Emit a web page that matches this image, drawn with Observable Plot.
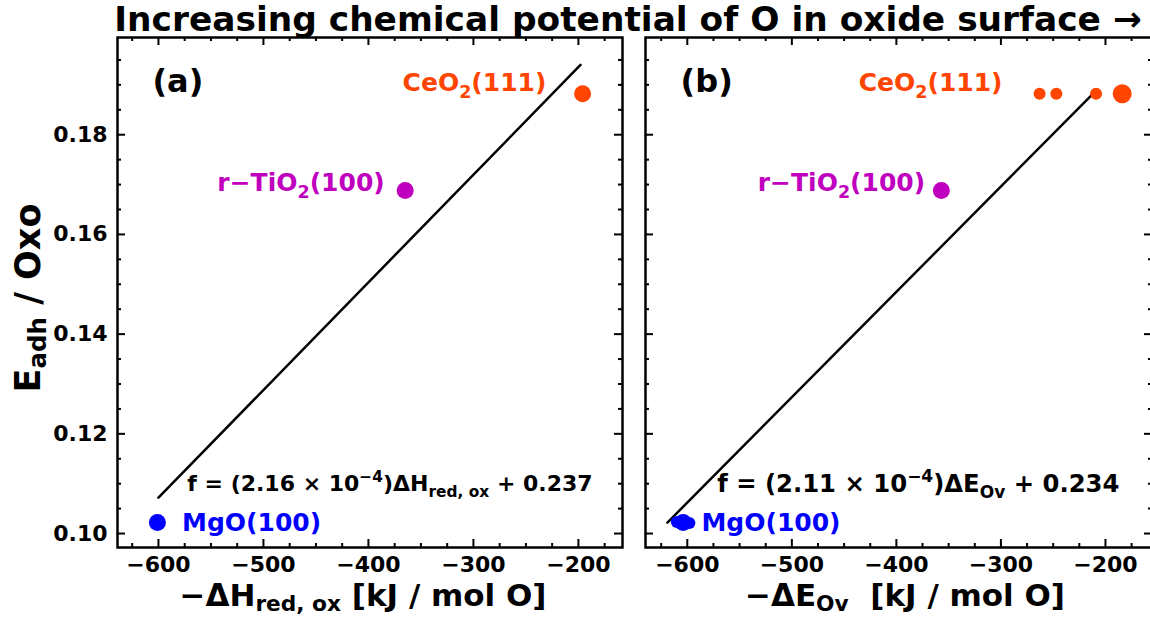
<!DOCTYPE html>
<html><head><meta charset="utf-8">
<script src="https://cdn.jsdelivr.net/npm/d3@7"></script>
<script src="https://cdn.jsdelivr.net/npm/@observablehq/plot@0.6"></script>
<style>
body{margin:0;width:1150px;height:619px;overflow:hidden;background:#fff;font-family:"DejaVu Sans",sans-serif;font-weight:bold;}
#wrap{position:relative;width:1150px;height:619px;overflow:hidden;}
.abs{position:absolute;white-space:pre;color:#000;}
.sub{font-size:70%;vertical-align:-0.22em;}
</style></head><body><div id="wrap"></div>
<script>
// ---------- data ----------
const titleText = "Increasing chemical potential of O in oxide surface \u2192";
const yLabel = "E_{adh} / Oxo";
const xLabelA = "\u2212\u0394H_{red, ox} [kJ / mol O]";
const xLabelB = "\u2212\u0394E_{Ov}  [kJ / mol O]";

// panel (a): -ΔH_red,ox vs E_adh/Oxo
const aMaterial = ["Ce", "Ti", "Mg"];
const aX = [-196, -365, -601];
const aY = [0.1882, 0.1688, 0.1022];
const aKind = ["main", "main", "main"];
const aFitX = [-600, -198];
const aFitY = [0.1072, 0.1940];

// panel (b): -ΔE_Ov vs E_adh/Oxo
const bMaterial = ["Ce", "Ce", "Ce", "Ce", "Ti", "Mg", "Mg", "Mg"];
const bX = [-263, -247, -209, -184, -357, -610, -598, -604];
const bY = [0.1882, 0.1882, 0.1882, 0.1882, 0.1688, 0.1023, 0.1021, 0.1022];
const bKind = ["small", "small", "small", "big", "main", "small", "small", "main"];
const bFitX = [-619, -213];
const bFitY = [0.1022, 0.1880];

// labels
const matLabel = {Ce: "CeO_{2}(111)", Ti: "r\u2212TiO_{2}(100)", Mg: "MgO(100)"};
const aLabelX = [-230, -384, -577];
const aLabelY = [0.1904, 0.1704, 0.1022];
const bLabelX = [-298, -372, -586];
const bLabelY = [0.1904, 0.1704, 0.1022];
const labelMats = ["Ce", "Ti", "Mg"];
const labelAnchor = ["end", "end", "start"];
const formulaA = "f = (2.16 \u00d7 10^{\u22124})\u0394H_{red, ox} + 0.237";
const formulaB = "f = (2.11 \u00d7 10^{\u22124})\u0394E_{Ov} + 0.234";
const formulaAPos = [-572, 0.1100];
const formulaBPos = [-571, 0.1100];
const panelTagA = ["(a)", -581, 0.1908];
const panelTagB = ["(b)", -581, 0.1908];

const xMajor = [-600, -500, -400, -300, -200];
const xMinor = [-625, -575, -550, -525, -475, -450, -425, -375, -350, -325, -275, -250, -225, -175];
const yMajor = [0.10, 0.12, 0.14, 0.16, 0.18];
const yMinor = [0.105, 0.11, 0.115, 0.125, 0.13, 0.135, 0.145, 0.15, 0.155, 0.165, 0.17, 0.175, 0.185, 0.19, 0.195];

// ---------- style ----------
const colorOf = {Ce: "#ff4500", Ti: "#bf00bf", Mg: "#0000ff"};
const radiusOf = {main: 8.5, big: 9.5, small: 6};
const FONT = "DejaVu Sans";

function richHTML(str) {
  return str.split(/(_\{[^}]*\})/).filter(s => s.length).map(p =>
    p.startsWith("_{") ? `<span class="sub">${p.slice(2, -1)}</span>` : p
  ).join("");
}

function richSVG(svg, x, y, str, fs, color, anchor) {
  const t = d3.select(svg).append("text")
    .attr("x", x).attr("y", y + fs * 0.36)
    .attr("fill", color).attr("font-size", fs).attr("font-weight", "bold")
    .attr("font-family", FONT).attr("text-anchor", anchor)
    .attr("style", "white-space:pre");
  const parts = str.split(/([_^]\{[^}]*\})/).filter(s => s.length);
  let cur = 0;
  for (const p of parts) {
    let txt = p, off = 0, size = fs;
    if (p.startsWith("_{")) { txt = p.slice(2, -1); off = 0.26 * fs; size = 0.7 * fs; }
    else if (p.startsWith("^{")) { txt = p.slice(2, -1); off = -0.42 * fs; size = 0.7 * fs; }
    t.append("tspan").attr("dy", off - cur).attr("font-size", size).text(txt);
    cur = off;
  }
}

function panel(opts) {
  const {xs, ys, mats, kinds, fitX, fitY, xDomain, width, height, mL, mR, mT, mB, showY} = opts;
  const W = width - mL - mR, H = height - mT - mB;
  const pts = xs.map((x, i) => ({x, y: ys[i], m: mats[i], k: kinds[i]}));
  const fit = fitX.map((x, i) => ({x, y: fitY[i]}));
  const marks = [
    Plot.line(fit, {x: "x", y: "y", stroke: "black", strokeWidth: 2.5}),
    Plot.dot(pts, {x: "x", y: "y", r: d => radiusOf[d.k], fill: d => colorOf[d.m], stroke: "none"}),
    // inward ticks: bottom, top
    Plot.tickX(xMajor, {x: d => d, insetTop: H - 8, strokeWidth: 2}),
    Plot.tickX(xMajor, {x: d => d, insetBottom: H - 8, strokeWidth: 2}),
    Plot.tickX(xMinor, {x: d => d, insetTop: H - 4, strokeWidth: 2}),
    Plot.tickX(xMinor, {x: d => d, insetBottom: H - 4, strokeWidth: 2}),
    // left, right
    Plot.tickY(yMajor, {y: d => d, insetRight: W - 8, strokeWidth: 2}),
    Plot.tickY(yMajor, {y: d => d, insetLeft: W - 8, strokeWidth: 2}),
    Plot.tickY(yMinor, {y: d => d, insetRight: W - 4, strokeWidth: 2}),
    Plot.tickY(yMinor, {y: d => d, insetLeft: W - 4, strokeWidth: 2}),
    Plot.axisX(xMajor, {tickSize: 0, tickPadding: 9, tickFormat: d3.format("d"), fontSize: 22, fontWeight: "bold", label: null}),
    Plot.frame({stroke: "black", strokeWidth: 2.5})
  ];
  if (showY) marks.push(Plot.axisY(yMajor, {tickSize: 0, tickPadding: 10, tickFormat: d3.format(".2f"), fontSize: 22, fontWeight: "bold", label: null}));
  else marks.push(Plot.axisY({ticks: [], tickSize: 0, label: null}));
  return Plot.plot({
    width, height, marginLeft: mL, marginRight: mR, marginTop: mT, marginBottom: mB,
    x: {domain: xDomain, label: null},
    y: {domain: [0.0972, 0.1995], label: null},
    r: {type: "identity"},
    color: {type: "identity"},
    style: {fontFamily: FONT, fontWeight: "bold", fontSize: "22px", color: "black", background: "transparent", overflow: "visible", maxWidth: "none"},
    marks
  });
}

const wrap = document.getElementById("wrap");

function place(el, left, top, w) {
  const d = document.createElement("div");
  d.style.position = "absolute"; d.style.left = left + "px"; d.style.top = top + "px";
  d.style.width = w + "px";
  el.style.maxWidth = "none";
  el.setAttribute("width", w);
  d.appendChild(el); wrap.appendChild(d);
}

const pa = panel({xs: aX, ys: aY, mats: aMaterial, kinds: aKind, fitX: aFitX, fitY: aFitY,
  xDomain: [-639, -158], width: 630, height: 619, mL: 117, mR: 8, mT: 37, mB: 72, showY: true});
const pb = panel({xs: bX, ys: bY, mats: bMaterial, kinds: bKind, fitX: bFitX, fitY: bFitY,
  xDomain: [-640, -155], width: 530, height: 619, mL: 15, mR: 8, mT: 37, mB: 72, showY: false});
place(pa, 0, 0, 630);
place(pb, 630, 0, 530);

function annotate(p, labelX, labelY, formula, fpos, fsize, tag) {
  const sx = p.scale("x"), sy = p.scale("y");
  labelMats.forEach((m, i) => {
    richSVG(p, sx.apply(labelX[i]), sy.apply(labelY[i]), matLabel[m], 25, colorOf[m], labelAnchor[i]);
  });
  richSVG(p, sx.apply(fpos[0]), sy.apply(fpos[1]), formula, fsize, "black", "start");
  richSVG(p, sx.apply(tag[1]), sy.apply(tag[2]), tag[0], 32, "black", "middle");
}
annotate(pa, aLabelX, aLabelY, formulaA, formulaAPos, 22, panelTagA);
annotate(pb, bLabelX, bLabelY, formulaB, formulaBPos, 24.3, panelTagB);

// HTML titles / axis labels
function addDiv(html, css) {
  const d = document.createElement("div");
  d.className = "abs"; d.innerHTML = html; Object.assign(d.style, css); wrap.appendChild(d);
  return d;
}
addDiv(titleText, {left: "108px", width: "1040px", textAlign: "center", top: "2px", fontSize: "34.4px", lineHeight: "34px"});
addDiv(richHTML(xLabelA), {left: "63px", width: "600px", textAlign: "center", top: "580px", fontSize: "31px", lineHeight: "30px"});
addDiv(richHTML(xLabelB), {left: "635px", width: "540px", textAlign: "center", top: "580px", fontSize: "31px", lineHeight: "30px"});
addDiv(richHTML(yLabel), {left: "33px", top: "298px", fontSize: "35px", lineHeight: "35px", transform: "translate(-50%,-50%) rotate(-90deg)"});
</script></body></html>
